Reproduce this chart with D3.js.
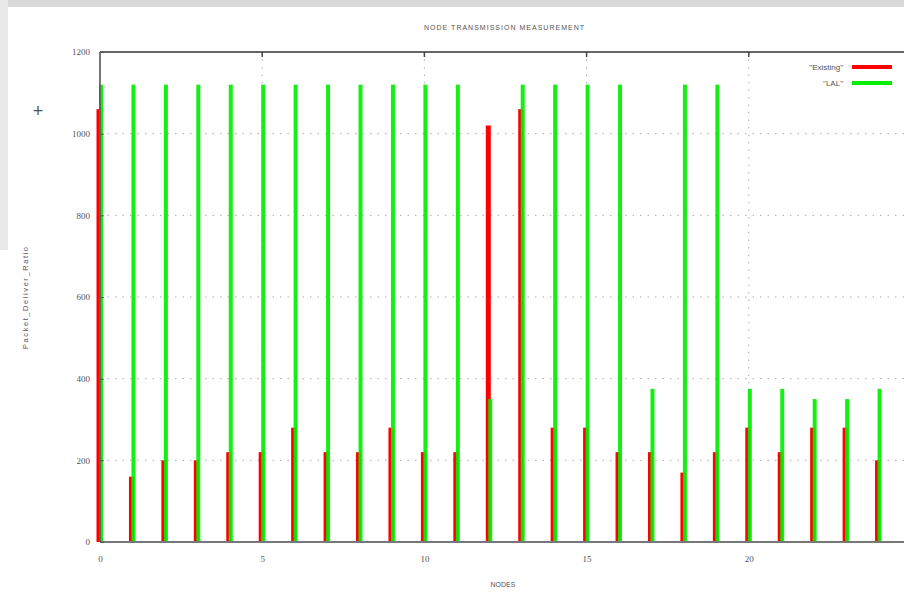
<!DOCTYPE html>
<html>
<head>
<meta charset="utf-8">
<script src="https://cdn.jsdelivr.net/npm/d3@7"></script>
<style>
  body { margin: 0; background: #fff; }
  svg text { font-family: "Liberation Sans", sans-serif; fill: #555; }
</style>
</head>
<body>
<div id="viz"></div>
<script>
const nodes = d3.range(0, 25);
const existing = [1060, 160, 200, 200, 220, 220, 280, 220, 220, 280, 220, 220, 1020, 1060, 280, 280, 220, 220, 170, 220, 280, 220, 280, 280, 200];
const lal = [1120, 1120, 1120, 1120, 1120, 1120, 1120, 1120, 1120, 1120, 1120, 1120, 350, 1120, 1120, 1120, 1120, 375, 1120, 1120, 375, 375, 350, 350, 375];
const xTicks = [0, 5, 10, 15, 20];
const yTicks = [0, 200, 400, 600, 800, 1000, 1200];
const seriesNames = ['"Existing"', '"LAL"'];

const width = 904, height = 592;
const M = { top: 52, left: 100, bottom: 50 };
const plotRight = 911;

const svg = d3.select('#viz').append('svg')
  .attr('width', width).attr('height', height);

// scanned-page background strips
svg.append('rect').attr('x', 0).attr('y', 0).attr('width', width).attr('height', 7).attr('fill', '#d9d9d9');
svg.append('rect').attr('x', 0).attr('y', 0).attr('width', 8).attr('height', 250).attr('fill', '#e8e8e8');

const x = d3.scaleLinear().domain([0, 25]).range([M.left, plotRight]);
const y = d3.scaleLinear().domain([0, 1200]).range([height - M.bottom, M.top]);

// grid
svg.append('g').selectAll('line').data(yTicks.filter(d => d > 0 && d < 1200)).join('line')
  .attr('x1', M.left).attr('x2', width)
  .attr('y1', d => y(d)).attr('y2', d => y(d))
  .attr('stroke', '#aaa').attr('stroke-width', 1).attr('stroke-dasharray', '1.5,6');
svg.append('g').selectAll('line').data(xTicks.filter(d => d > 0)).join('line')
  .attr('x1', d => x(d)).attr('x2', d => x(d))
  .attr('y1', y(1200)).attr('y2', y(0))
  .attr('stroke', '#aaa').attr('stroke-width', 1).attr('stroke-dasharray', '1.5,6');

// bars (impulses)
svg.append('g').selectAll('rect').data(nodes).join('rect')
  .attr('x', d => x(d) - 3.5).attr('width', 5)
  .attr('y', d => y(existing[d])).attr('height', d => y(0) - y(existing[d]))
  .attr('fill', '#ff0000');
svg.append('g').selectAll('rect').data(nodes).join('rect')
  .attr('x', d => x(d) - 1).attr('width', 4)
  .attr('y', d => y(lal[d])).attr('height', d => y(0) - y(lal[d]))
  .attr('fill', '#00ee00').attr('fill-opacity', 0.92);

// border
svg.append('line').attr('x1', M.left).attr('x2', width).attr('y1', y(1200)).attr('y2', y(1200))
  .attr('stroke', '#666').attr('stroke-width', 2);
svg.append('line').attr('x1', M.left).attr('x2', width).attr('y1', y(0)).attr('y2', y(0))
  .attr('stroke', '#777').attr('stroke-width', 2);
svg.append('line').attr('x1', M.left).attr('x2', M.left).attr('y1', y(1200)).attr('y2', y(0))
  .attr('stroke', '#555').attr('stroke-width', 2).attr('stroke-opacity', 0.8);

// y axis
const yAxis = d3.axisLeft(y).tickValues(yTicks).tickFormat(d3.format('d')).tickSize(-4).tickPadding(10);
const ya = svg.append('g').attr('transform', `translate(${M.left},0)`).call(yAxis);
ya.select('.domain').remove();
ya.selectAll('line').attr('stroke', '#555');
ya.selectAll('text').attr('font-size', 9).attr('fill', '#555').style('font-family', '"Liberation Serif", serif');

// x axis
const xAxis = d3.axisBottom(x).tickValues(xTicks).tickFormat(d3.format('d')).tickSize(0).tickPadding(14);
const xa = svg.append('g').attr('transform', `translate(0,${y(0)})`).call(xAxis);
xa.select('.domain').remove();
xa.selectAll('text').attr('font-size', 9).attr('fill', '#555').style('font-family', '"Liberation Serif", serif');
// top tick marks
svg.append('g').selectAll('line').data(xTicks.filter(d => d > 0)).join('line')
  .attr('x1', d => x(d)).attr('x2', d => x(d))
  .attr('y1', y(1200)).attr('y2', y(1200) + 5)
  .attr('stroke', '#444').attr('stroke-width', 1.5);

// titles
svg.append('text').attr('x', 504).attr('y', 30).attr('text-anchor', 'middle')
  .attr('font-size', 7).attr('textLength', 160).text('NODE TRANSMISSION MEASUREMENT');
svg.append('text').attr('x', 503).attr('y', 587).attr('text-anchor', 'middle')
  .attr('font-size', 7).text('NODES');
svg.append('text').attr('transform', 'translate(28,298) rotate(-90)').attr('text-anchor', 'middle')
  .attr('font-size', 7.5).attr('textLength', 102).text('Packet_Deliver_Ratio');
svg.append('text').attr('x', 38).attr('y', 117).attr('text-anchor', 'middle')
  .attr('font-size', 18).attr('font-weight', 300).attr('fill', '#777').text('+');

// legend
const colors = ['#ff0000', '#00ee00'];
const legend = svg.append('g');
seriesNames.forEach((n, i) => {
  const ly = 67 + i * 16;
  legend.append('text').attr('x', 843).attr('y', ly + 3).attr('text-anchor', 'end')
    .attr('font-size', 8).text(n);
  legend.append('line').attr('x1', 852).attr('x2', 892).attr('y1', ly).attr('y2', ly)
    .attr('stroke', colors[i]).attr('stroke-width', 4);
});
</script>
</body>
</html>
